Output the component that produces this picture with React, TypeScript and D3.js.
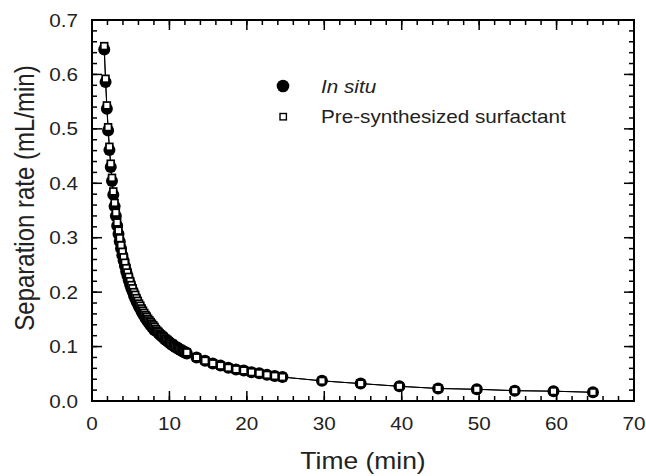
import React from 'react';
import * as d3 from 'd3';

const time = [
  1.58, 1.75, 1.92, 2.08, 2.25, 2.42, 2.58, 2.75, 2.92, 3.08,
  3.25, 3.42, 3.58, 3.75, 3.92, 4.08, 4.25, 4.42, 4.58, 4.75,
  4.92, 5.08, 5.25, 5.42, 5.58, 5.75, 5.92, 6.08, 6.25, 6.42,
  6.58, 6.75, 6.92, 7.08, 7.25, 7.42, 7.58, 7.75, 7.92, 8.08,
  8.25, 8.42, 8.58, 8.75, 8.92, 9.08, 9.25, 9.42, 9.58, 9.75,
  9.92, 10.08, 10.25, 10.42, 10.58, 10.75, 10.92, 11.08, 11.25, 11.42,
  11.58, 11.75, 11.92, 12.08, 12.25,
  13.5, 14.6, 15.6, 16.6, 17.6, 18.6, 19.6, 20.6, 21.6, 22.6, 23.6, 24.6,
  29.7, 34.7, 39.7, 44.7, 49.7, 54.6, 59.6, 64.7,
];

const inSitu = [
  0.646, 0.586, 0.537, 0.497, 0.461, 0.430, 0.404, 0.379, 0.358, 0.340,
  0.322, 0.307, 0.293, 0.280, 0.268, 0.258, 0.248, 0.238, 0.230, 0.222,
  0.214, 0.207, 0.201, 0.194, 0.189, 0.183, 0.178, 0.173, 0.169, 0.164,
  0.160, 0.156, 0.152, 0.149, 0.145, 0.142, 0.139, 0.136, 0.133, 0.130,
  0.130, 0.127, 0.125, 0.122, 0.120, 0.118, 0.116, 0.113, 0.112, 0.110,
  0.108, 0.106, 0.104, 0.103, 0.101, 0.099, 0.098, 0.0965, 0.095, 0.0936,
  0.0923, 0.091, 0.0897, 0.0885, 0.0873,
  0.080, 0.074, 0.069, 0.065, 0.061, 0.058, 0.056, 0.053, 0.051, 0.048, 0.046, 0.044,
  0.037, 0.032, 0.027, 0.023, 0.0215, 0.019, 0.018, 0.016,
];

const preSynth = [
  0.652, 0.592, 0.543, 0.503, 0.467, 0.436, 0.410, 0.385, 0.364, 0.346,
  0.328, 0.313, 0.299, 0.286, 0.274, 0.264, 0.254, 0.244, 0.236, 0.228,
  0.220, 0.213, 0.207, 0.200, 0.195, 0.189, 0.184, 0.179, 0.175, 0.170,
  0.166, 0.162, 0.158, 0.155, 0.151, 0.148, 0.145, 0.142, 0.139, 0.136,
  0.132, 0.129, 0.127, 0.124, 0.122, 0.120, 0.118, 0.115, 0.114, 0.112,
  0.110, 0.108, 0.106, 0.105, 0.103, 0.101, 0.100, 0.0985, 0.097, 0.0956,
  0.0943, 0.093, 0.0917, 0.0905, 0.0893,
  0.080, 0.074, 0.069, 0.065, 0.061, 0.058, 0.056, 0.053, 0.051, 0.048, 0.046, 0.044,
  0.037, 0.032, 0.027, 0.023, 0.0215, 0.019, 0.018, 0.016,
];

const xTicks = [0, 10, 20, 30, 40, 50, 60, 70];
const yTicks = [0, 0.1, 0.2, 0.3, 0.4, 0.5, 0.6, 0.7];
const legendLabels = ['In situ', 'Pre-synthesized surfactant'];
const xTitle = 'Time (min)';
const yTitle = 'Separation rate (mL/min)';

const FONT = '"Liberation Sans", Arial, Helvetica, sans-serif';
const SX = 1.15;

export default function App() {
  const W = 646, H = 476;
  const L = 92, R = 634, T = 20, B = 401;
  const x = d3.scaleLinear().domain([0, 70]).range([L, R]);
  const y = d3.scaleLinear().domain([0, 0.7]).range([B, T]);
  const xMinor = d3.range(0, 70.001, 2);
  const yMinor = d3.range(0, 0.7001, 0.02);
  const MAJ = 10, MIN = 5;

  const line = d3.line<number>().x((_, i) => x(time[i])).y((d) => y(d));

  const fmtY = d3.format('.1f');

  return (
    <svg width={W} height={H} style={{ position: 'absolute', left: 0, top: 0, background: '#fff' }}>
      <rect x={0} y={0} width={W} height={H} fill="#fff" />
      <g stroke="#000" strokeWidth={1.5}>
        {xMinor.map((v, i) => (
          <g key={'xm' + i}>
            <line x1={x(v)} x2={x(v)} y1={B} y2={B - MIN} />
            <line x1={x(v)} x2={x(v)} y1={T} y2={T + MIN} />
          </g>
        ))}
        {yMinor.map((v, i) => (
          <g key={'ym' + i}>
            <line x1={L} x2={L + MIN} y1={y(v)} y2={y(v)} />
            <line x1={R} x2={R - MIN} y1={y(v)} y2={y(v)} />
          </g>
        ))}
        {xTicks.map((v, i) => (
          <g key={'xM' + i}>
            <line x1={x(v)} x2={x(v)} y1={B} y2={B - MAJ} />
            <line x1={x(v)} x2={x(v)} y1={T} y2={T + MAJ} />
          </g>
        ))}
        {yTicks.map((v, i) => (
          <g key={'yM' + i}>
            <line x1={L} x2={L + MAJ} y1={y(v)} y2={y(v)} />
            <line x1={R} x2={R - MAJ} y1={y(v)} y2={y(v)} />
          </g>
        ))}
      </g>
      <rect x={L} y={T} width={R - L} height={B - T} fill="none" stroke="#000" strokeWidth={2} />

      <g fontFamily={FONT} fontSize={18} fill="#222">
        {xTicks.map((v, i) => (
          <g key={'xl' + i} transform={`translate(${x(v)},${B + 29}) scale(${SX},1)`}>
            <text textAnchor="middle">{v}</text>
          </g>
        ))}
        {yTicks.map((v, i) => (
          <g key={'yl' + i} transform={`translate(${L - 14},${y(v) + 6.5}) scale(${SX},1)`}>
            <text textAnchor="end">{fmtY(v)}</text>
          </g>
        ))}
      </g>

      <g fontFamily={FONT} fill="#222">
        <g transform={`translate(${(L + R) / 2},${469}) scale(${SX},1)`}>
          <text textAnchor="middle" fontSize={23}>{xTitle}</text>
        </g>
        <g transform={`translate(${34},${198}) scale(${SX},1) rotate(-90)`}>
          <text textAnchor="middle" fontSize={24}>{yTitle}</text>
        </g>
      </g>

      <path d={line(inSitu) || ''} fill="none" stroke="#000" strokeWidth={1} />
      <path d={line(preSynth) || ''} fill="none" stroke="#000" strokeWidth={1} />

      <g fill="#000">
        {inSitu.map((v, i) => (
          <circle key={'c' + i} cx={x(time[i])} cy={y(v)} r={6} />
        ))}
      </g>
      <g fill="#fff" stroke="#000" strokeWidth={1.7}>
        {preSynth.map((v, i) => (
          <rect key={'s' + i} x={x(time[i]) - 3.4} y={y(v) - 3.4} width={6.8} height={6.8} />
        ))}
      </g>

      <circle cx={283} cy={86} r={6.3} fill="#000" />
      <rect x={280} y={113.5} width={6.4} height={6.4} fill="#fff" stroke="#000" strokeWidth={1.4} />
      <g fontFamily={FONT} fontSize={18} fill="#222">
        <g transform={`translate(321,93) scale(${SX},1)`}>
          <text fontStyle="italic">{legendLabels[0]}</text>
        </g>
        <g transform={`translate(321,123) scale(${SX},1)`}>
          <text>{legendLabels[1]}</text>
        </g>
      </g>
    </svg>
  );
}
